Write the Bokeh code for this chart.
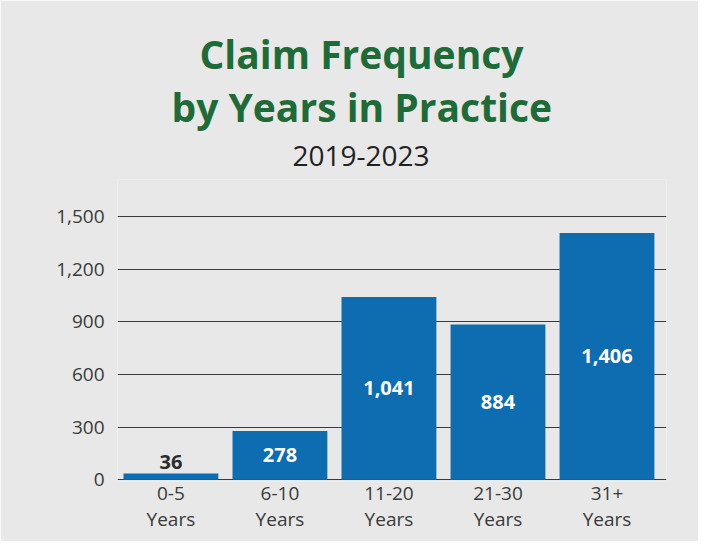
from bokeh.plotting import figure
from bokeh.models import ColumnDataSource, Range1d, FixedTicker, NumeralTickFormatter, Title
from bokeh.core.properties import value
from bokeh.embed import file_html
from bokeh.resources import INLINE

categories = ["0-5\nYears", "6-10\nYears", "11-20\nYears", "21-30\nYears", "31+\nYears"]
claims = [36, 278, 1041, 884, 1406]
value_labels = ["36", "278", "1,041", "884", "1,406"]
y_ticks = [0, 300, 600, 900, 1200, 1500]
title_lines = ["Claim Frequency", "by Years in Practice"]
subtitle = "2019-2023"

BG = "#e7e8e7"
BAR = "#0e6db0"
GREEN = "#1e6b37"
FONT = "Open Sans"

xs = list(range(len(categories)))
inside = [v > 150 for v in claims]
src = ColumnDataSource(dict(
    x=xs, top=claims, lab=value_labels,
    ly=[v / 2 if ins else v for v, ins in zip(claims, inside)],
    lc=["white" if ins else "#2b2b2b" for ins in inside],
    lb=["middle" if ins else "bottom" for ins in inside],
    lo=[0 if ins else -4 for ins in inside],
))

p = figure(width=698, height=541, output_backend="svg", toolbar_location=None,
           x_range=Range1d(-0.49, 4.546), y_range=Range1d(-10, 1711),
           min_border_left=117, min_border_right=32, min_border_top=179, min_border_bottom=60,
           background_fill_color=BG, border_fill_color=BG, outline_line_color=None,
           title_location=None)

ts = Title(text=subtitle, align="left", text_font=FONT, text_font_size="28px",
           text_font_style="normal", text_color="#222222", standoff=27, offset=175)
t2 = Title(text=title_lines[1], align="left", text_font=FONT, text_font_size="39px",
           text_font_style="bold", text_color=GREEN, standoff=-4, offset=54)
t1 = Title(text=title_lines[0], align="left", text_font=FONT, text_font_size="39px",
           text_font_style="bold", text_color=GREEN, standoff=0, offset=82)
p.add_layout(ts, "above")
p.add_layout(t2, "above")
p.add_layout(t1, "above")

p.vbar(x="x", top="top", width=0.87, source=src, color=BAR, line_color=None)
p.text(x="x", y="ly", text="lab", source=src, text_color="lc", text_baseline="lb",
       y_offset="lo", text_align="center", text_font=value(FONT), text_font_style="bold",
       text_font_size="20px")

p.xgrid.grid_line_color = None
p.ygrid.ticker = FixedTicker(ticks=y_ticks)
p.ygrid.grid_line_color = "#3a3a3a"
p.ygrid.grid_line_width = 1

p.yaxis.ticker = FixedTicker(ticks=y_ticks)
p.yaxis.formatter = NumeralTickFormatter(format="0,0")
p.xaxis.ticker = FixedTicker(ticks=xs)
p.xaxis.major_label_overrides = {i: c for i, c in enumerate(categories)}
for ax in (p.xaxis, p.yaxis):
    ax.axis_line_color = None
    ax.major_tick_line_color = None
    ax.minor_tick_line_color = None
    ax.major_label_text_font = FONT
    ax.major_label_text_font_size = "19px"
    ax.major_label_text_color = "#3a3a3a"
p.yaxis.major_label_standoff = 7
p.xaxis.major_label_standoff = -8
p.xaxis.major_label_text_line_height = 1.0

open("out.html", "w").write(file_html(p, INLINE))
